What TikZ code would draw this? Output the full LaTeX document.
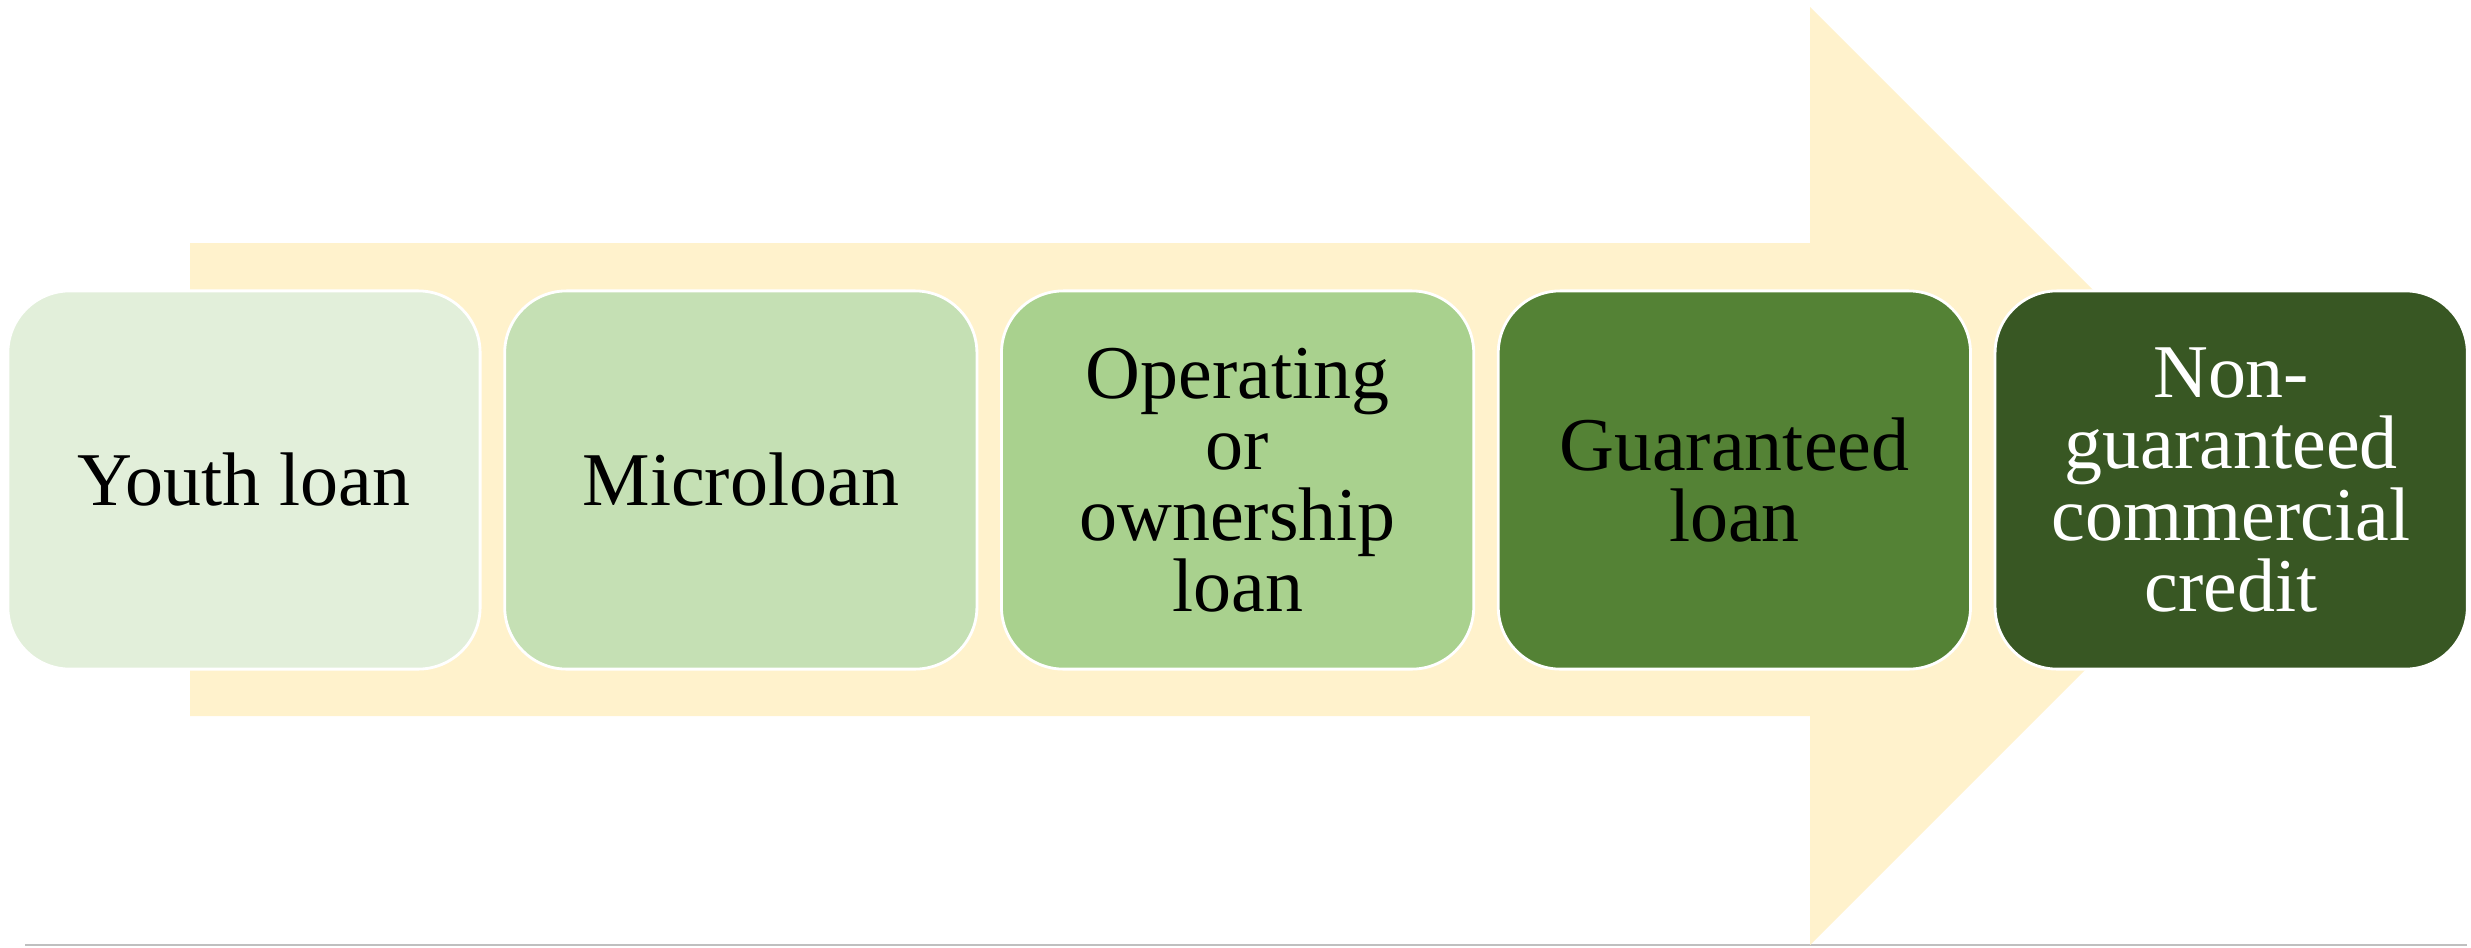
\documentclass[tikz,border=0pt]{standalone}
\usepackage{fontspec}
\setmainfont{Liberation Serif}
\definecolor{arrowfill}{HTML}{FFF2CC}
\definecolor{gone}{HTML}{E2EFDA}
\definecolor{gtwo}{HTML}{C5E0B4}
\definecolor{gthree}{HTML}{A9D18E}
\definecolor{gfour}{HTML}{548235}
\definecolor{gfive}{HTML}{385723}
\definecolor{rulegray}{HTML}{BFBFBF}
\begin{document}
\begin{tikzpicture}[x=0.01cm,y=-0.01cm,
  loanbox/.style={draw=white, line width=0.8pt, rounded corners=0.62cm,
    minimum width=4.72cm, minimum height=3.78cm, align=center,
    inner sep=0pt, font=\fontsize{21.6}{20.2}\selectfont}]
\useasboundingbox (0,0) rectangle (2471,948);
\draw[rulegray, line width=0.6pt] (25,945) -- (2467,945);
\fill[arrowfill] (190,243) -- (1810,243) -- (1810,7) -- (2279,476)
  -- (1810,945) -- (1810,716) -- (190,716) -- cycle;
\node[loanbox, fill=gone] (youth) at (244,480) {Youth loan};
\node[loanbox, fill=gtwo] (micro) at (740.8,480) {Microloan};
\node[loanbox, fill=gthree] (oper) at (1237.6,480) {Operating\\or\\ownership\\loan};
\node[loanbox, fill=gfour] (guar) at (1734.4,480) {Guaranteed\\loan};
\node[loanbox, fill=gfive, text=white] (nonguar) at (2231.2,480) {Non-\\guaranteed\\commercial\\credit};
\end{tikzpicture}
\end{document}
